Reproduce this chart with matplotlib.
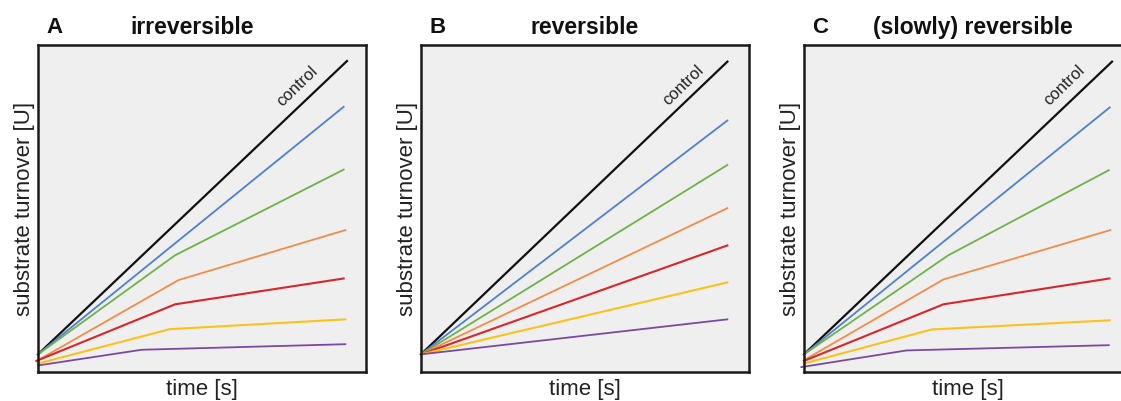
import matplotlib
matplotlib.use("Agg")
import matplotlib.pyplot as plt

plt.rcParams['font.family'] = ['Liberation Sans', 'DejaVu Sans']

series_names = ["control", "blue", "green", "orange", "red", "yellow", "purple"]
colors = ["#111111", "#4f7fcf", "#6db24a", "#f28c48", "#d8262a", "#fcc21b", "#7a4aa0"]
widths = [1.6, 1.3, 1.3, 1.3, 1.5, 1.5, 1.3]

panel_letters = ["A", "B", "C"]
panel_titles = ["irreversible", "reversible", "(slowly) reversible"]

# Panel A (irreversible): x and y points per series
a_x = [
    [0, 9.42],
    [0, 9.32],
    [0, 4.18, 9.32],
    [0, 4.28, 9.37],
    [-0.05, 4.18, 9.32],
    [0, 4.02, 9.37],
    [0, 3.16, 9.37],
]
a_y = [
    [0.54, 9.51],
    [0.54, 8.11],
    [0.54, 3.57, 6.19],
    [0.36, 2.81, 4.34],
    [0.34, 2.07, 2.86],
    [0.26, 1.31, 1.61],
    [0.20, 0.68, 0.85],
]

# Panel B (reversible)
b_x = [[0, 9.34]] * 7
b_y = [
    [0.54, 9.49],
    [0.54, 7.69],
    [0.54, 6.33],
    [0.54, 5.01],
    [0.54, 3.87],
    [0.54, 2.74],
    [0.54, 1.61],
]

# Panel C (slowly reversible)
c_x = [
    [0, 9.39],
    [0, 9.32],
    [0, 4.40, 9.29],
    [0, 4.25, 9.34],
    [0, 4.25, 9.31],
    [0, 3.89, 9.32],
    [-0.08, 3.13, 9.29],
]
c_y = [
    [0.54, 9.49],
    [0.54, 8.09],
    [0.54, 3.57, 6.17],
    [0.36, 2.83, 4.34],
    [0.34, 2.07, 2.86],
    [0.26, 1.30, 1.58],
    [0.15, 0.66, 0.82],
]

panels_x = [a_x, b_x, c_x]
panels_y = [a_y, b_y, c_y]

W, H = 1121, 401
fig = plt.figure(figsize=(W / 100, H / 100), dpi=100)

lefts_px = [38, 421, 804]
ax_w_px, ax_top_px, ax_bot_px = 328, 45, 372
title_x = [0.47, 0.50, 0.515]
control_pos = [(0.79, 0.875), (0.798, 0.878), (0.792, 0.878)]

for i in range(3):
    l = lefts_px[i]
    ax = fig.add_axes([l / W, (H - ax_bot_px) / H, ax_w_px / W, (ax_bot_px - ax_top_px) / H])
    ax.set_facecolor("#efefef")
    for xs, ys, c, lw in zip(panels_x[i], panels_y[i], colors, widths):
        ax.plot(xs, ys, color=c, lw=lw, clip_on=False, solid_joinstyle="round")
    ax.set_xlim(0, 10)
    ax.set_ylim(0, 10)
    ax.set_xticks([])
    ax.set_yticks([])
    for s in ax.spines.values():
        s.set_linewidth(1.8)
        s.set_color("#1a1a1a")
    ax.text(-0.042, 0.5, "substrate turnover [U]", rotation=90, ha="center", va="center",
            fontsize=16, transform=ax.transAxes, color="#222222")
    ax.text(0.5, -0.055, "time [s]", ha="center", va="center", fontsize=16,
            transform=ax.transAxes, color="#222222")
    ax.text(0.05, 1.055, panel_letters[i], ha="center", va="center", fontsize=16,
            fontweight="bold", transform=ax.transAxes, color="#111111")
    ax.text(title_x[i], 1.055, panel_titles[i], ha="center", va="center", fontsize=16.5,
            fontweight="bold", transform=ax.transAxes, color="#111111")
    cx, cy = control_pos[i]
    ax.text(cx, cy, "control", rotation=44, ha="center", va="center", fontsize=12,
            transform=ax.transAxes, color="#222222", rotation_mode="anchor")

fig.savefig("out.png", dpi=100)
